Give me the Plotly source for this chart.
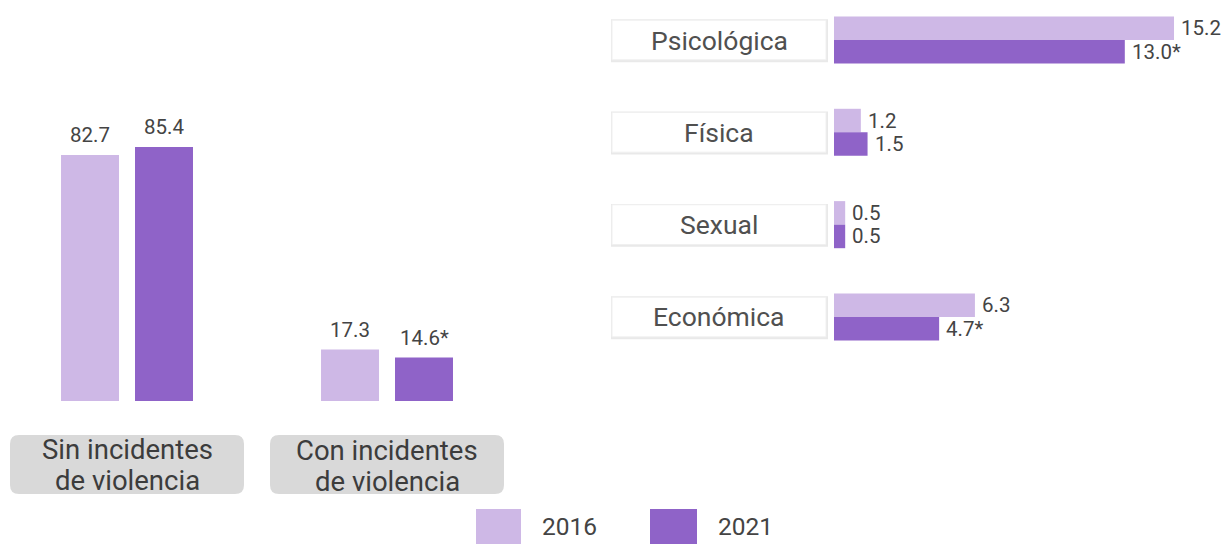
import plotly.graph_objects as go

# ---------------- data ----------------
years = ["2016", "2021"]
colors = ["#CEB8E6", "#8F63C8"]

left_categories = ["Sin incidentes<br>de violencia", "Con incidentes<br>de violencia"]
left_2016 = [82.7, 17.3]
left_2021 = [85.4, 14.6]
left_sig_2021 = [False, True]

right_categories = ["Psicológica", "Física", "Sexual", "Económica"]
right_2016 = [15.2, 1.2, 0.5, 6.3]
right_2021 = [13.0, 1.5, 0.5, 4.7]
right_sig_2021 = [True, False, False, True]

W, H = 1231, 544
FONT = "Roboto"
VAL_SIZE = 20.5


def fmt(v, sig=False):
    return f"{v:.1f}" + ("*" if sig else "")


def px_x(p):
    return p / W


def px_y(p):
    return (H - p) / H


fig = go.Figure()

# ---------------- left chart (vertical bars) ----------------
bw = 0.223
bg = 0.0615
left_offsets = [-(bw + bg / 2), bg / 2]
left_vals = [left_2016, left_2021]
left_sigs = [[False] * len(left_2016), left_sig_2021]
for i, yr in enumerate(years):
    fig.add_trace(go.Bar(
        x=list(range(len(left_categories))), y=left_vals[i], name=yr,
        marker=dict(color=colors[i], line=dict(width=0)),
        width=bw, offset=left_offsets[i],
        xaxis="x", yaxis="y", showlegend=False, hoverinfo="skip",
    ))
    for j, v in enumerate(left_vals[i]):
        fig.add_annotation(
            x=j + left_offsets[i] + bw / 2, y=v, xref="x", yref="y",
            text=fmt(v, left_sigs[i][j]), showarrow=False,
            yanchor="middle", yshift=20,
            font=dict(family=FONT, size=VAL_SIZE, color="#444444"),
        )

# ---------------- right chart (horizontal bars) ----------------
bh = 0.255
right_offsets = [-bh, 0]
right_vals = [right_2016, right_2021]
right_sigs = [[False] * len(right_2016), right_sig_2021]
for i, yr in enumerate(years):
    fig.add_trace(go.Bar(
        y=list(range(len(right_categories))), x=right_vals[i], name=yr,
        orientation="h",
        marker=dict(color=colors[i], line=dict(width=0)),
        width=bh, offset=right_offsets[i],
        xaxis="x2", yaxis="y2", showlegend=False, hoverinfo="skip",
    ))
    for j, v in enumerate(right_vals[i]):
        fig.add_annotation(
            x=v, y=j + right_offsets[i] + bh / 2, xref="x2", yref="y2",
            text=fmt(v, right_sigs[i][j]), showarrow=False,
            xanchor="left", yanchor="middle", xshift=5,
            font=dict(family=FONT, size=VAL_SIZE, color="#444444"),
        )

# ---------------- axes ----------------
lx_range = [-0.4885, 1.5115]
lx_dom = [0, 520 / W]
fig.update_layout(
    xaxis=dict(domain=lx_dom, range=lx_range, visible=False, fixedrange=True),
    yaxis=dict(domain=[px_y(401), px_y(103.5)], range=[0, 100], visible=False),
    xaxis2=dict(domain=[px_x(834), 1], range=[0, 397 / 22.37], visible=False),
    yaxis2=dict(domain=[px_y(400), 1], range=[(400 - 40) / 92.33, -40 / 92.33],
                visible=False),
)

shapes = []
annotations = []


def lx_px(v):
    return lx_dom[0] * W + (v - lx_range[0]) / (lx_range[1] - lx_range[0]) * (lx_dom[1] - lx_dom[0]) * W


# left category labels in rounded grey boxes
box_w, box_top, box_bot, r = 234, 435, 494, 9
line_y = [449, 480]
for j, cat in enumerate(left_categories):
    cx = lx_px(j)
    x0, x1 = px_x(cx - box_w / 2), px_x(cx + box_w / 2)
    y0, y1 = px_y(box_top), px_y(box_bot)
    rx, ry = r / W, r / H
    path = (f"M {x0+rx},{y0} L {x1-rx},{y0} Q {x1},{y0} {x1},{y0-ry} "
            f"L {x1},{y1+ry} Q {x1},{y1} {x1-rx},{y1} L {x0+rx},{y1} "
            f"Q {x0},{y1} {x0},{y1+ry} L {x0},{y0-ry} Q {x0},{y0} {x0+rx},{y0} Z")
    shapes.append(dict(type="path", path=path, xref="paper", yref="paper",
                       fillcolor="#D9D9D9", line=dict(width=0), layer="below"))
    for k, line in enumerate(cat.split("<br>")):
        annotations.append(dict(x=j, y=px_y(line_y[k] + j), xref="x", yref="paper",
                                text=line, showarrow=False, yanchor="middle",
                                font=dict(family=FONT, size=27.5, color="#3C3C3C")))

# right category labels in white boxes with soft shadow
bx0, bx1 = 612, 826
half = 0.215
for j, cat in enumerate(right_categories):
    shapes.append(dict(type="rect", xref="paper", yref="y2",
                       x0=px_x(bx0 - 1), x1=px_x(bx1 + 2), y0=j - half - 0.01, y1=j + half + 0.025,
                       fillcolor="#E9E9E9", line=dict(width=0), layer="below"))
    shapes.append(dict(type="rect", xref="paper", yref="y2",
                       x0=px_x(bx0), x1=px_x(bx1), y0=j - half, y1=j + half,
                       fillcolor="#FFFFFF", line=dict(width=1, color="#F0F0F0"), layer="below"))
    annotations.append(dict(x=px_x((bx0 + bx1) / 2), y=j, xref="paper", yref="y2",
                            text=cat, showarrow=False, yanchor="middle",
                            font=dict(family=FONT, size=26.5, color="#505050")))

# legend (custom squares)
leg_sq = [(476, 521), (650, 697)]
leg_tx = [569, 745]
for i, yr in enumerate(years):
    shapes.append(dict(type="rect", xref="paper", yref="paper",
                       x0=px_x(leg_sq[i][0]), x1=px_x(leg_sq[i][1]),
                       y0=px_y(509), y1=px_y(546),
                       fillcolor=colors[i], line=dict(width=0)))
    annotations.append(dict(x=px_x(leg_tx[i]), y=px_y(526), xref="paper", yref="paper",
                            text=yr, showarrow=False, yanchor="middle",
                            font=dict(family=FONT, size=24.5, color="#444444")))

fig.update_layout(
    width=W, height=H,
    margin=dict(l=0, r=0, t=0, b=0),
    paper_bgcolor="white", plot_bgcolor="white",
    barmode="overlay",
    shapes=shapes,
    annotations=list(fig.layout.annotations) + annotations,
    showlegend=False,
    font=dict(family=FONT),
)

fig.write_html("out.html", config={"displayModeBar": False},
               post_script="document.body.style.margin='0px';document.body.style.overflow='hidden';")
